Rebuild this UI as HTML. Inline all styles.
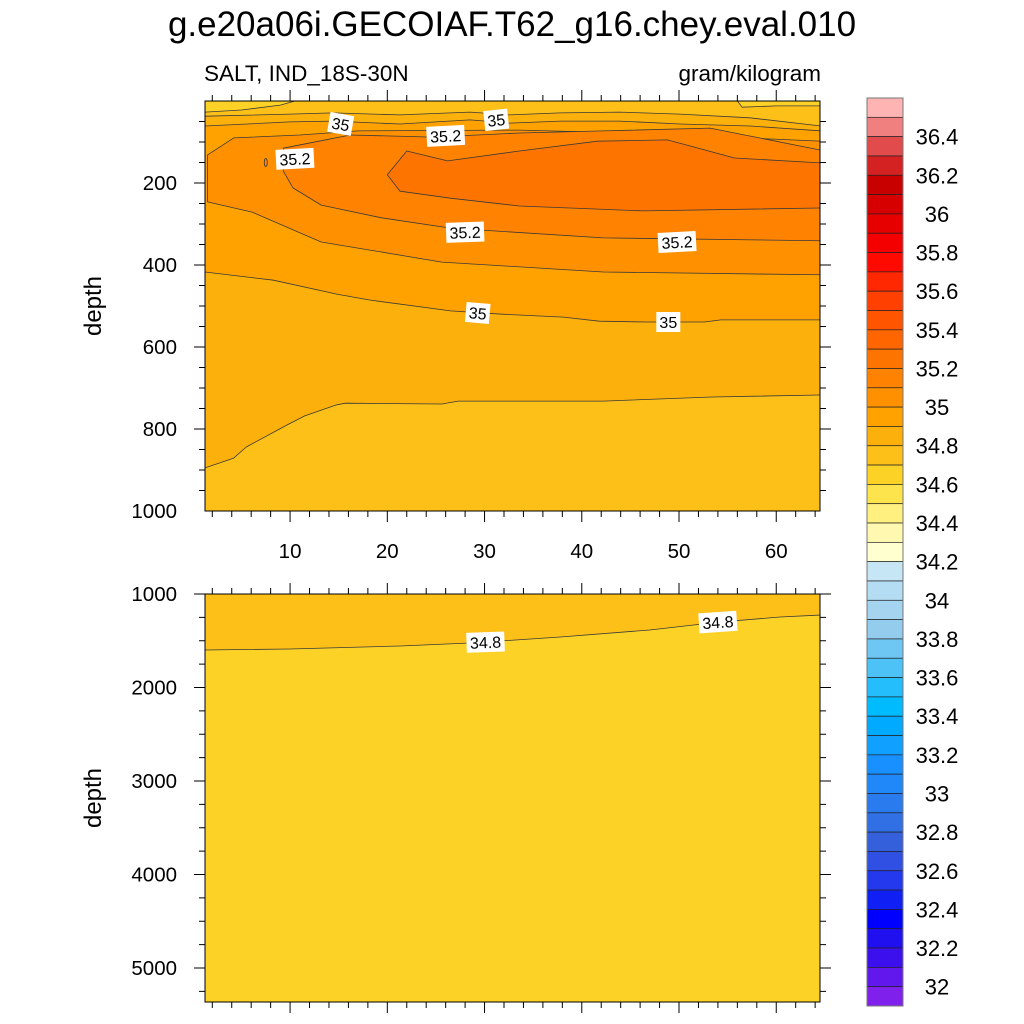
<!DOCTYPE html>
<html><head><meta charset="utf-8"><style>
body{margin:0;background:#fff;}
svg{display:block;font-family:"Liberation Sans",sans-serif;}
</style></head><body>
<svg id="c" width="1024" height="1024" xmlns="http://www.w3.org/2000/svg">
<text x="512" y="36" font-size="35" text-anchor="middle">g.e20a06i.GECOIAF.T62_g16.chey.eval.010</text>
<text x="204" y="81" font-size="22.5">SALT, IND_18S-30N</text>
<text x="821" y="81" font-size="22.5" text-anchor="end">gram/kilogram</text>
</svg>
<script>
// ---- data ----
const levels=[36.5,36.4,36.3,36.2,36.1,36,35.9,35.8,35.7,35.6,35.5,35.4,35.3,35.2,35.1,35,34.9,34.8,34.7,34.6,34.5,34.4,34.3,34.2,34.1,34,33.9,33.8,33.7,33.6,33.5,33.4,33.3,33.2,33.1,33,32.9,32.8,32.7,32.6,32.5,32.4,32.3,32.2,32.1,32];
const boxColors=["#ffb4b4","#f08080","#e14b4b","#d42222","#c80000","#d70000","#e60000","#f50000","#ff0a00","#ff2800","#ff4000","#ff5500","#ff6600","#fe7400","#ff8200","#ff9100","#ffa200","#fbb00b","#fcc018","#fdd226","#fee44c","#fff080","#fff8b0","#ffffd0","#c6e5f5","#b4dcf2","#a4d4ef","#94cced","#6ec6f2","#4cc2f6","#24befc","#00bcff","#00aaff","#10a0ff","#1890ff","#2088f8","#2a7cee","#3070e4","#3460dc","#3050e4","#2438ee","#1020f4","#0000ff","#2010f0","#3c10ec","#6018ec","#8020ec"];
const cbLabels=["36.4","36.2","36","35.8","35.6","35.4","35.2","35","34.8","34.6","34.4","34.2","34","33.8","33.6","33.4","33.2","33","32.8","32.6","32.4","32.2","32"];
const xTicks=[10,20,30,40,50,60];
const yTicksTop=[200,400,600,800,1000];
const yTicksBot=[1000,2000,3000,4000,5000];
// contours (x in index units, depth in m)
const c348L_x=[1.25,5,9,10.5], c348L_d=[27,22,10,0];
const c348R_x=[56,56.5,60,64.6], c348R_d=[0,15,12,12];
const c349top_x=[1.25,10,14.4,21.3,28.5,32.6,37.8,43.9,50.1,57.3,64.6];
const c349top_d=[37,32,29,34,27,34,29,27,32,41,61];
const c349deep_x=[1.25,4.2,5.5,9.7,11.5,14.8,15.7,25.6,27.3,42.2,53.4,64.6];
const c349deep_d=[895,871,844,790,768,741,737,739,732,732,722,717];
const c350top_x=[1.25,10,14.4,21.3,28.5,32.6,37.8,43.9,50.1,57.3,64.6];
const c350top_d=[61,51,49,56,46,54,49,49,56,61,73];
const c350deep_x=[1.25,8.3,14.8,18.1,26.5,31.8,38.1,41.8,46.8,52.6,54.3,64.6];
const c350deep_d=[417,437,471,485,512,520,527,537,539,539,534,534];
const c351top_x=[1.5,4.2,11,17,33.6,45,55,64.6];
const c351top_d=[132,90,83,73,71,78,88,98];
const c351bot_x=[1.5,6.1,13.2,25.6,42.2,64.6];
const c351bot_d=[246,271,344,393,417,424];
const c352top_x=[9.3,12.1,16.2,24.7,33.6,42.2,53.2,64.6];
const c352top_d=[115,102,83,88,78,73,66,120];
const c352bot_x=[9.3,10.3,13.2,19.4,26.5,42.2,64.6];
const c352bot_d=[171,212,254,285,310,334,341];
const c353top_x=[20,22,26.2,33.6,41.6,48.8,51.2,55.7,64.6];
const c353top_d=[180,122,146,122,98,95,110,139,151];
const c353bot_x=[20,21.3,26.5,33.6,46.3,64.6];
const c353bot_d=[180,220,237,256,268,261];
const c348B_x=[1.25,10,21.3,28.5,37.8,47,54.2,60.4,64.6];
const c348B_d=[1599,1588,1556,1524,1460,1385,1299,1246,1225];
const labelsTop=[["35",15.2,56,10],["35",31.2,46,-6],["35.2",26,85,-3],["35.2",10.5,141,-3],["35.2",28,320,-2],["35.2",49.8,344,-3],["35",29.3,517,5],["35",48.9,539,0]];
const labelsBot=[["34.8",30.1,1515,-2],["34.8",54,1300,-4]];
// ---- axes ----
const NS="http://www.w3.org/2000/svg";
const svg=document.getElementById('c');
const X0=205,X1=820,XMIN=1.25,XMAX=64.5;
const sx=v=>X0+(v-XMIN)*(X1-X0)/(XMAX-XMIN);
const T0=101,T1=511, syT=d=>T0+d*(T1-T0)/1000;
const B0=594,B1=1002, syB=d=>B0+(d-1000)*0.0935;
function mk(tag,attrs,parent){const e=document.createElementNS(NS,tag);for(const k in attrs)e.setAttribute(k,attrs[k]);(parent||svg).appendChild(e);return e;}
const defs=mk('defs',{});
const cp1=mk('clipPath',{id:'clipT'},defs);mk('rect',{x:X0,y:T0,width:X1-X0,height:T1-T0},cp1);
const cp2=mk('clipPath',{id:'clipB'},defs);mk('rect',{x:X0,y:B0,width:X1-X0,height:B1-B0},cp2);
function pts(xs,ds,sy){return xs.map((x,i)=>sx(x).toFixed(1)+','+sy(ds[i]).toFixed(1));}
// top panel
const gT=mk('g',{'clip-path':'url(#clipT)'});


const bgT=mk('rect',{x:X0,y:T0,width:X1-X0,height:T1-T0,fill:'#fcc018'},gT);


function region(g,name,color,tx,td,bx,bd,sy){
  const p=pts(tx,td,sy).concat(pts(bx,bd,sy).reverse());
  const e=mk('polygon',{points:p.join(' '),fill:color,stroke:'#3a3a3a','stroke-width':0.8,'stroke-linejoin':'round'},g);
  
  
}
function topPatch(g,name,color,xs,ds,sy,x0,x1){
  const p=[sx(x0).toFixed(1)+','+sy(0)].concat(pts(xs,ds,sy));
  p.push(sx(x1).toFixed(1)+','+sy(0));
  const e=mk('polygon',{points:p.join(' '),fill:color,stroke:'#3a3a3a','stroke-width':0.8},g);
  
  
}
region(gT,'band-34.9','#fbb00b',c349top_x,c349top_d,c349deep_x,c349deep_d,syT);
region(gT,'band-35.0','#ffa200',c350top_x,c350top_d,c350deep_x,c350deep_d,syT);
region(gT,'band-35.1','#ff9100',c351top_x,c351top_d,c351bot_x,c351bot_d,syT);
region(gT,'band-35.2','#ff8200',c352top_x,c352top_d,c352bot_x,c352bot_d,syT);
region(gT,'band-35.3','#fe7400',c353top_x,c353top_d,c353bot_x,c353bot_d,syT);
topPatch(gT,'patch-34.7-left','#fdd226',c348L_x,c348L_d,syT,1.0,10.5);
topPatch(gT,'patch-34.7-right','#fdd226',c348R_x,c348R_d,syT,56,64.8);
const loop=mk('ellipse',{cx:sx(7.5),cy:syT(150),rx:1.5,ry:4,fill:'#ff8200',stroke:'#3a3a3a','stroke-width':0.8},gT);


// bottom panel
const gB=mk('g',{'clip-path':'url(#clipB)'});


const bgB=mk('rect',{x:X0,y:B0,width:X1-X0,height:B1-B0,fill:'#fdd226'},gB);


{const p=[sx(1.0)+','+syB(1000)].concat(pts(c348B_x,c348B_d,syB));p.push(sx(64.8)+','+syB(1000));
const e=mk('polygon',{points:p.join(' '),fill:'#fcc018',stroke:'#3a3a3a','stroke-width':0.8},gB);

}
// contour labels
function clabel(g,l,sy){
  const x=sx(l[1]),y=sy(l[2]);
  const grp=mk('g',{transform:`translate(${x},${y}) rotate(${l[3]})`},g);
  
  
  const w=l[0].length>2?38:24;
  mk('rect',{x:-w/2,y:-10,width:w,height:20,fill:'#fff'},grp);
  const t=mk('text',{x:0,y:6,'font-size':16,'text-anchor':'middle'},grp);t.textContent=l[0];
}
labelsTop.forEach(l=>clabel(svg,l,syT));
labelsBot.forEach(l=>clabel(svg,l,syB));
// frames and ticks
function frame(y0,y1,name){const r=mk('rect',{x:X0,y:y0,width:X1-X0,height:y1-y0,fill:'none',stroke:'#000','stroke-width':1});

}
frame(T0,T1,'upper-plot-frame');frame(B0,B1,'lower-plot-frame');
function line(x1,y1,x2,y2){mk('line',{x1,y1,x2,y2,stroke:'#000','stroke-width':1});}
function xticks(y0,y1){
  for(let v=2;v<=64;v+=2){const x=sx(v);const L=(v%10===0)?11:6;line(x,y0,x,y0-L);line(x,y1,x,y1+L);}
}
xticks(T0,T1);xticks(B0,B1);
xTicks.forEach(v=>{const t=mk('text',{x:sx(v),y:558,'font-size':20.5,'text-anchor':'middle'});t.textContent=v;

});
for(let d=50;d<1000;d+=50){const y=syT(d);const L=d%200===0?11:6;line(X0,y,X0-L,y);line(X1,y,X1+L,y);}
for(let d=1000;d<=5400;d+=250){const y=syB(d);const L=d%1000===0?11:6;line(X0,y,X0-L,y);line(X1,y,X1+L,y);}
yTicksTop.forEach(v=>{const t=mk('text',{x:177,y:syT(v)+7,'font-size':20.5,'text-anchor':'end'});t.textContent=v;

});
yTicksBot.forEach(v=>{const t=mk('text',{x:177,y:syB(v)+7,'font-size':20.5,'text-anchor':'end'});t.textContent=v;

});
[[ (T0+T1)/2,'upper-y-axis-title'],[(B0+B1)/2,'lower-y-axis-title']].forEach(a=>{
  const t=mk('text',{x:0,y:0,'font-size':24,'text-anchor':'middle',transform:`translate(101,${a[0]}) rotate(-90)`});t.textContent='depth';
  
  });
// colorbar
const CB0=98,CB1=1006,bh=(CB1-CB0)/boxColors.length;
const cb=mk('g',{});


boxColors.forEach((c,i)=>{const r=mk('rect',{x:867,y:CB0+i*bh,width:36,height:bh,fill:c,stroke:'#222','stroke-width':0.7},cb);

});
mk('rect',{x:867,y:CB0,width:36,height:CB1-CB0,fill:'none',stroke:'#777','stroke-width':1},cb);
cbLabels.forEach(s=>{const L=parseFloat(s);const k=levels.indexOf(L);const y=CB0+(k+1)*bh;
  const t=mk('text',{x:937,y:y+8,'font-size':22,'text-anchor':'middle'},cb);t.textContent=s;
  
  });
</script>
</body></html>
